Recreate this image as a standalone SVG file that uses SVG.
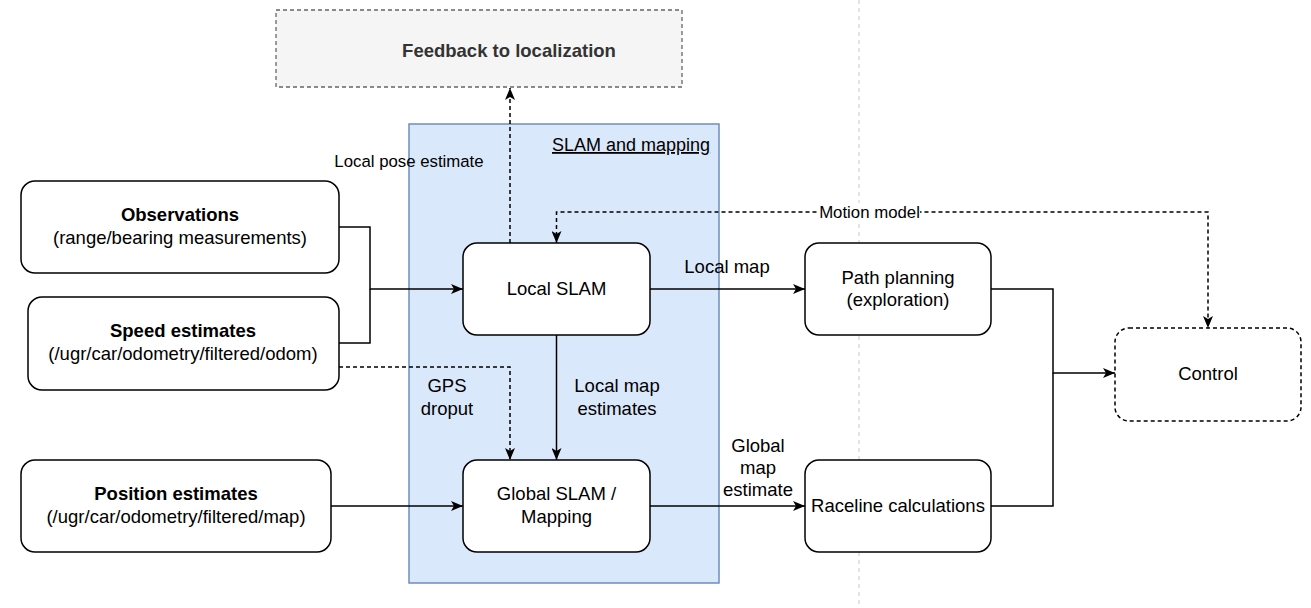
<svg xmlns="http://www.w3.org/2000/svg" width="1311" height="608" viewBox="0 0 1311 608">
<style>
  text { font-family: "Liberation Sans", Arial, sans-serif; fill: #000; }
  .node { fill: #fff; stroke: #000; stroke-width: 1.5; }
  .dashnode { fill: #fff; stroke: #000; stroke-width: 1.5; stroke-dasharray: 4 3; }
  .t { font-size: 18.5px; text-anchor: middle; }
  .b { font-weight: bold; }
  .lbl { font-size: 18.5px; text-anchor: middle; }
  .small { font-size: 16.8px; }
  .edge { fill: none; stroke: #000; stroke-width: 1.5; }
  .dash { stroke-dasharray: 4 3; }
</style>
<defs>
  <marker id="arr" viewBox="0 0 12 10" refX="12" refY="5" markerWidth="12" markerHeight="10" markerUnits="userSpaceOnUse" orient="auto-start-reverse">
    <path d="M0,0 L12,5 L0,10 L3,5 z" fill="#000"/>
  </marker>
</defs>
<rect width="1311" height="608" fill="#fff"/>

<line x1="859" y1="0" x2="859" y2="608" stroke="#c8c8c8" stroke-width="1" stroke-dasharray="4 4"/>

<g id="slam-container">
  <rect x="409" y="124" width="310" height="459" fill="#dae8fc" stroke="#6c8ebf" stroke-width="1.5"/>
  <text x="552" y="151" style="font-size:18px" text-decoration="underline">SLAM and mapping</text>
</g>

<g id="feedback">
  <rect x="276" y="10" width="406" height="77" fill="#f5f5f5" stroke="#666" stroke-width="1.3" stroke-dasharray="4 3"/>
  <text x="509" y="57" class="t b" style="fill:#333">Feedback to localization</text>
</g>

<g id="observations">
  <rect class="node" x="21" y="181" width="318" height="92" rx="14"/>
  <text x="180" y="221" class="t b">Observations</text>
  <text x="180" y="244" class="t">(range/bearing measurements)</text>
</g>

<g id="speed">
  <rect class="node" x="28" y="297" width="311" height="93" rx="14"/>
  <text x="183" y="337" class="t b">Speed estimates</text>
  <text x="183" y="360" class="t">(/ugr/car/odometry/filtered/odom)</text>
</g>

<g id="position">
  <rect class="node" x="21" y="460" width="310" height="92" rx="14"/>
  <text x="176" y="500" class="t b">Position estimates</text>
  <text x="176" y="523" class="t">(/ugr/car/odometry/filtered/map)</text>
</g>

<g id="local-slam">
  <rect class="node" x="463" y="243" width="187" height="92" rx="14"/>
  <text x="556.5" y="295" class="t">Local SLAM</text>
</g>

<g id="global-slam">
  <rect class="node" x="463" y="460" width="187" height="92" rx="14"/>
  <text x="556.5" y="500" class="t">Global SLAM /</text>
  <text x="556.5" y="523" class="t">Mapping</text>
</g>

<g id="path-planning">
  <rect class="node" x="805" y="243" width="186" height="92" rx="14"/>
  <text x="898" y="284" class="t">Path planning</text>
  <text x="898" y="306" class="t">(exploration)</text>
</g>

<g id="raceline">
  <rect class="node" x="805" y="460" width="186" height="92" rx="14"/>
  <text x="898" y="512" class="t">Raceline calculations</text>
</g>

<g id="control">
  <rect class="dashnode" x="1115" y="328" width="186" height="93" rx="14"/>
  <text x="1208" y="380" class="t">Control</text>
</g>

<g id="connectors">
  <path class="edge" d="M339,227 H370 V289 H463" marker-end="url(#arr)"/>
  <path class="edge" d="M339,343 H370 V289"/>
  <path class="edge dash" d="M339,367 H510 V460" marker-end="url(#arr)"/>
  <path class="edge" d="M556.5,335 V460" marker-end="url(#arr)"/>
  <path class="edge" d="M331,506 H463" marker-end="url(#arr)"/>
  <path class="edge" d="M650,289 H805" marker-end="url(#arr)"/>
  <path class="edge" d="M650,506 H805" marker-end="url(#arr)"/>
  <path class="edge" d="M991,289 H1053 V373 H1115" marker-end="url(#arr)"/>
  <path class="edge" d="M991,506 H1053 V373"/>
  <path class="edge dash" d="M510,243 V88" marker-end="url(#arr)"/>
  <path class="edge dash" d="M556.5,243 V212 H1208 V328" marker-start="url(#arr)" marker-end="url(#arr)"/>

  <text x="409" y="167" class="lbl small">Local pose estimate</text>
  <rect x="819" y="203" width="101" height="18" fill="#fff"/>
  <text x="869.5" y="218" class="lbl small">Motion model</text>
  <text x="727" y="273" class="lbl">Local map</text>
  <text x="758" y="452" class="lbl">Global</text>
  <text x="758" y="474" class="lbl">map</text>
  <text x="758" y="496" class="lbl">estimate</text>
  <text x="447" y="392" class="lbl">GPS</text>
  <text x="447" y="415" class="lbl">droput</text>
  <text x="617" y="392" class="lbl">Local map</text>
  <text x="617" y="415" class="lbl">estimates</text>
</g>
</svg>
